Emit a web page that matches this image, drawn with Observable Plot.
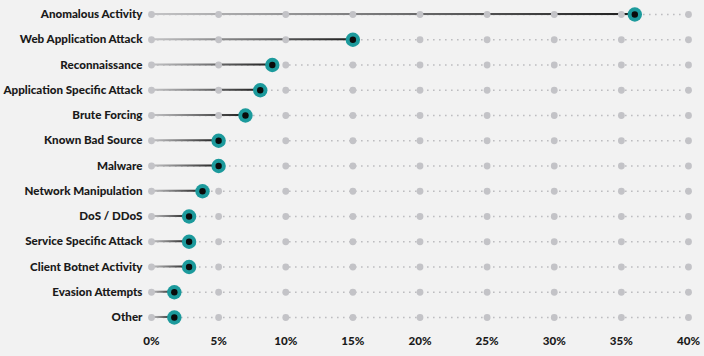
<!DOCTYPE html>
<html><head><meta charset="utf-8">
<script src="https://cdn.jsdelivr.net/npm/d3@7"></script>
<script src="https://cdn.jsdelivr.net/npm/@observablehq/plot@0.6"></script>
<style>
html,body{margin:0;padding:0;background:#f2f2f2;}
#chart svg{display:block;}
</style></head>
<body><div id="chart"></div>
<script>
const categories = ["Anomalous Activity","Web Application Attack","Reconnaissance","Application Specific Attack","Brute Forcing","Known Bad Source","Malware","Network Manipulation","DoS / DDoS","Service Specific Attack","Client Botnet Activity","Evasion Attempts","Other"];
const values = [36, 15, 9, 8.1, 7, 5, 5, 3.8, 2.8, 2.8, 2.8, 1.7, 1.7];
const ticks = [0,5,10,15,20,25,30,35,40];

const data = categories.map((c,i)=>({category:c, value:values[i]}));
const grid = categories.flatMap(c => ticks.map(t => ({category:c, t})));

const plot = Plot.plot({
  width: 704, height: 356,
  marginLeft: 151, marginRight: 16, marginTop: 1.4, marginBottom: 26.4,
  style: {background:"#f2f2f2", fontFamily:"Lato, sans-serif", fontWeight:"900", fontSize:"11.6px", color:"#1a1a1a"},
  x: {domain:[0,40], ticks: ticks, tickFormat: d => d + "%", label: null},
  y: {domain: categories, padding: 0, round: false, label: null},
  marks: [
    () => {
      const svg = d3.create("svg:defs");
      const g = svg.append("linearGradient").attr("id","lollgrad").attr("x1","0").attr("x2","1").attr("y1","0").attr("y2","0");
      g.append("stop").attr("offset","0").attr("stop-color","#c4c4c6");
      g.append("stop").attr("offset","1").attr("stop-color","#1e1e1e");
      return svg.node();
    },
    Plot.ruleY(categories, {y: d => d, x1: 0, x2: 40, stroke:"#bdbdc0", strokeWidth:1.6, strokeDasharray:"1.6,4.4"}),
    Plot.barX(data, {x: "value", y: "category", fill: "url(#lollgrad)", insetTop: 11.6, insetBottom: 11.6}),
    Plot.dot(grid, {x:"t", y:"category", r:3.4, fill:"#c3c3c7"}),
    Plot.dot(data, {x:"value", y:"category", r:7.2, fill:"#1c9a9c"}),
    Plot.dot(data, {x:"value", y:"category", r:3.2, fill:"#0a0a0a"}),
    Plot.axisY({tickSize:0, tickPadding:9}),
    Plot.axisX({tickSize:0, tickPadding:7, ticks: ticks, tickFormat: d => d + "%", label:null})
  ]
});
document.getElementById("chart").appendChild(plot);
</script></body></html>
